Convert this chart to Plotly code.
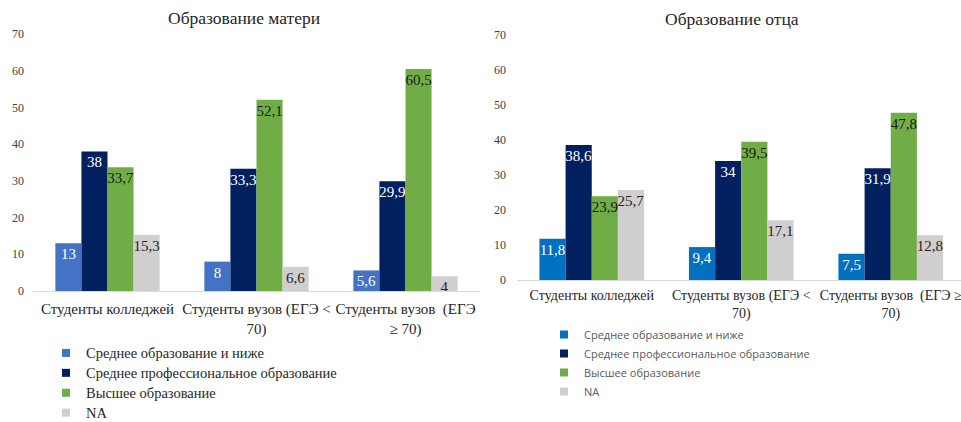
import plotly.graph_objects as go

W, H = 961, 422

categories = ["college", "uni_low", "uni_high"]
tick_labels_mother = ["Студенты колледжей", "Студенты вузов (ЕГЭ &lt;<br>70)", "Студенты вузов  (ЕГЭ<br>≥ 70)"]
tick_labels_father = ["Студенты колледжей", "Студенты вузов (ЕГЭ &lt;<br>70)", "Студенты вузов  (ЕГЭ ≥<br>70)"]

series_names = ["Среднее образование и ниже", "Среднее профессиональное образование", "Высшее образование", "NA"]

mother_secondary = [13, 8, 5.6]
mother_vocational = [38, 33.3, 29.9]
mother_higher = [33.7, 52.1, 60.5]
mother_na = [15.3, 6.6, 4]

father_secondary = [11.8, 9.4, 7.5]
father_vocational = [38.6, 34, 31.9]
father_higher = [23.9, 39.5, 47.8]
father_na = [25.7, 17.1, 12.8]

title_mother = "Образование матери"
title_father = "Образование отца"

colors_mother = ["#4472C4", "#002060", "#70AD47", "#D0CECE"]
colors_father = ["#0070C0", "#002060", "#70AD47", "#D0CECE"]
label_colors = ["#FFFFFF", "#FFFFFF", "#1A1A1A", "#262626"]

SERIF = "Liberation Serif"
SANS = "Open Sans"


def fmt(v):
    return ("%g" % v).replace(".", ",")


def px_x(p):
    return p / W


def px_y(p):
    return 1 - p / H


fig = go.Figure()

mother = [mother_secondary, mother_vocational, mother_higher, mother_na]
father = [father_secondary, father_vocational, father_higher, father_na]

for i, vals in enumerate(mother):
    fig.add_trace(go.Bar(
        x=categories, y=vals, name=series_names[i],
        marker=dict(color=colors_mother[i], line=dict(width=0)),
        text=[fmt(v) for v in vals], textposition="inside", insidetextanchor="end",
        textangle=0,
        textfont=dict(family=SERIF, size=15, color=label_colors[i]),
        xaxis="x", yaxis="y", showlegend=False, hoverinfo="skip",
    ))
for i, vals in enumerate(father):
    fig.add_trace(go.Bar(
        x=categories, y=vals, name=series_names[i],
        marker=dict(color=colors_father[i], line=dict(width=0)),
        text=[fmt(v) for v in vals], textposition="inside", insidetextanchor="end",
        textangle=0,
        textfont=dict(family=SERIF, size=15, color=label_colors[i]),
        xaxis="x2", yaxis="y2", showlegend=False, hoverinfo="skip",
    ))

# legend entries (small square swatches)
for i in range(4):
    fig.add_trace(go.Scatter(
        x=[None], y=[None], mode="markers",
        name="<span style='font-size:14.5px'>" + series_names[i] + "</span>",
        marker=dict(symbol="square", size=8, color=colors_mother[i]),
        xaxis="x", yaxis="y", legend="legend", showlegend=True, hoverinfo="skip",
    ))
for i in range(4):
    fig.add_trace(go.Scatter(
        x=[None], y=[None], mode="markers", name=series_names[i],
        marker=dict(symbol="square", size=8, color=colors_father[i]),
        xaxis="x2", yaxis="y2", legend="legend2", showlegend=True, hoverinfo="skip",
    ))

axis_common = dict(showgrid=False, zeroline=False, ticks="", automargin=False, fixedrange=True)

right_plot_w = W - 517

fig.update_layout(
    width=W, height=H, autosize=False,
    margin=dict(l=0, r=0, t=0, b=0, autoexpand=False),
    paper_bgcolor="white", plot_bgcolor="white",
    barmode="group", bargap=0.3, bargroupgap=0,
    uniformtext=dict(minsize=15, mode="show"),
    font=dict(family=SERIF, color="#262626"),
    xaxis=dict(domain=[px_x(33), px_x(480)], type="category", range=[-0.5, 2.5],
               tickvals=categories, ticktext=tick_labels_mother, tickangle=0,
               tickfont=dict(family=SERIF, size=15, color="#262626"),
               showline=True, linecolor="#D9D9D9", linewidth=1, anchor="y",
               ticklabelstandoff=4, **axis_common),
    yaxis=dict(domain=[px_y(291), px_y(34)], range=[0, 70], dtick=10,
               tickfont=dict(family=SERIF, size=12, color="#404040"),
               showline=False, anchor="x", ticklabelstandoff=8, **axis_common),
    xaxis2=dict(domain=[px_x(517), 1], type="category",
                range=[-0.5, -0.5 + right_plot_w / 149.5],
                tickvals=categories, ticktext=tick_labels_father, tickangle=0,
                tickfont=dict(family=SERIF, size=14, color="#262626"),
                showline=True, linecolor="#D9D9D9", linewidth=1, anchor="y2",
                ticklabelstandoff=2, **axis_common),
    yaxis2=dict(domain=[px_y(280), px_y(35)], range=[0, 70], dtick=10,
                tickfont=dict(family=SERIF, size=12, color="#404040"),
                showline=False, anchor="x2", ticklabelstandoff=10, **axis_common),
    legend=dict(x=px_x(46), y=px_y(338), xanchor="left", yanchor="top",
                orientation="v", font=dict(family=SERIF, size=13, color="#262626"),
                bgcolor="rgba(0,0,0,0)", itemclick=False, itemdoubleclick=False),
    legend2=dict(x=px_x(544), y=px_y(320), xanchor="left", yanchor="top",
                 orientation="v", font=dict(family=SANS, size=11, color="#595959"),
                 bgcolor="rgba(0,0,0,0)", itemclick=False, itemdoubleclick=False),
    annotations=[
        dict(text=title_mother, x=px_x(244), y=px_y(18), xref="paper", yref="paper",
             xanchor="center", yanchor="middle", showarrow=False,
             font=dict(family=SERIF, size=17.5, color="#262626")),
        dict(text=title_father, x=px_x(732), y=px_y(19), xref="paper", yref="paper",
             xanchor="center", yanchor="middle", showarrow=False,
             font=dict(family=SERIF, size=17.5, color="#262626")),
    ],
)

fig.write_html("out.html", config={"displayModeBar": False},
               post_script="document.body.style.margin='0px';")
